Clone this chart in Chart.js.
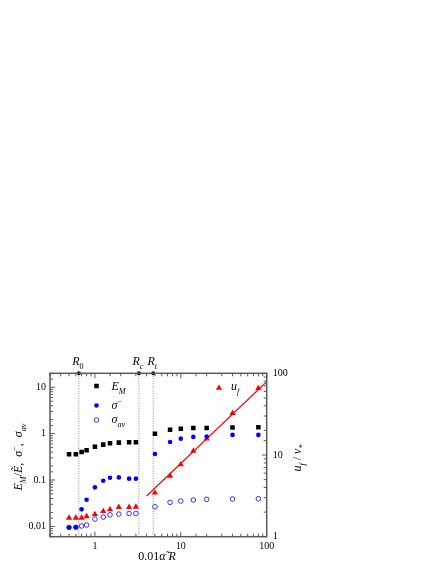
<!DOCTYPE html>
<html>
<head>
<meta charset="utf-8">
<script src="https://cdn.jsdelivr.net/npm/chart.js@4.4.0/dist/chart.umd.min.js"></script>
<style>
html, body { margin: 0; padding: 0; background: #fff; }
#wrap { width: 441px; height: 570px; }
</style>
</head>
<body>
<div id="wrap"><canvas id="chart" width="441" height="570"></canvas></div>
<script>
// datos
const xVals = [0.5, 0.6, 0.7, 0.8, 1, 1.25, 1.5, 1.9, 2.5, 3, 5, 7.5, 10, 14, 20, 40, 80];
const eM = [0.36, 0.36, 0.40, 0.44, 0.52, 0.58, 0.62, 0.64, 0.65, 0.65, 1.0, 1.22, 1.28, 1.33, 1.33, 1.35, 1.37];
const sigmaMinus = [0.0095, 0.0096, 0.0233, 0.0376, 0.0695, 0.0966, 0.112, 0.114, 0.107, 0.107, 0.365, 0.66, 0.78, 0.85, 0.87, 0.94, 0.94];
const sigmaAv = [0.0095, 0.0096, 0.0102, 0.0107, 0.0144, 0.0159, 0.0178, 0.0184, 0.019, 0.019, 0.0265, 0.033, 0.0352, 0.037, 0.0383, 0.0389, 0.0395];
const uF = [1.70, 1.70, 1.70, 1.77, 1.88, 2.05, 2.15, 2.30, 2.30, 2.32, 3.45, 5.55, 7.65, 11.2, 15.8, 32.5, 65.5];
const fitX = [4, 100];
const fitY = [3.15, 79];
const refX = [0.65, 3.25, 4.77];
const refSub = ['0', 'c', 't'];

const xTickValues = [1, 10, 100];
const xTickLabels = ['1', '10', '100'];
const yTickValues = [0.01, 0.1, 1, 10];
const yTickLabels = ['0.01', '0.1', '1', '10'];
const y2TickValues = [1, 10, 100];
const y2TickLabels = ['1', '10', '100'];

const X_MIN = 0.3, X_MAX = 100, Y_MIN = 0.006, Y_MAX = 20, Y2_MIN = 1, Y2_MAX = 100;

const SERIF = '"Liberation Serif", "DejaVu Serif", serif';

function pts(xs, ys) {
    return xs.map((x, i) => ({ x: x, y: ys[i] }));
}

function tickLabel(v, values, labels) {
    const i = values.findIndex(t => Math.abs(Math.log10(t) - Math.log10(v)) < 1e-6);
    return i >= 0 ? labels[i] : '';
}

function isDecade(v) {
    const l = Math.log10(v);
    return Math.abs(l - Math.round(l)) < 1e-6;
}

// texto con subindices / superindices
function richWidth(ctx, parts, size) {
    let w = 0;
    parts.forEach(p => {
        const s = (p.sub || p.sup) ? size * 0.68 : size;
        ctx.font = (p.it ? 'italic ' : '') + s + 'px ' + SERIF;
        w += ctx.measureText(p.t).width;
    });
    return w;
}

function drawRich(ctx, parts, x, y, size, align) {
    let cx = x;
    if (align === 'center') cx = x - richWidth(ctx, parts, size) / 2;
    ctx.textBaseline = 'alphabetic';
    ctx.textAlign = 'left';
    parts.forEach(p => {
        const s = (p.sub || p.sup) ? size * 0.68 : size;
        ctx.font = (p.it ? 'italic ' : '') + s + 'px ' + SERIF;
        let dy = 0;
        if (p.sub) dy = size * 0.32;
        if (p.sup) dy = -size * 0.42;
        ctx.fillText(p.t, cx, y + dy);
        cx += ctx.measureText(p.t).width;
    });
}

const decorPlugin = {
    id: 'decor',
    afterDraw(chart) {
        const ctx = chart.ctx;
        const ca = chart.chartArea;
        const sx = chart.scales.x, sy = chart.scales.y, sy2 = chart.scales.y2;
        ctx.save();

        // marco
        ctx.strokeStyle = '#5a5a5a';
        ctx.lineWidth = 1.5;
        ctx.strokeRect(ca.left, ca.top, ca.right - ca.left, ca.bottom - ca.top);

        // ticks hacia dentro
        ctx.lineWidth = 1;
        ctx.strokeStyle = '#5a5a5a';
        ctx.beginPath();
        sx.ticks.forEach(t => {
            const px = sx.getPixelForValue(t.value);
            const len = isDecade(t.value) ? 5 : 3;
            ctx.moveTo(px, ca.bottom); ctx.lineTo(px, ca.bottom - len);
            ctx.moveTo(px, ca.top); ctx.lineTo(px, ca.top + len);
        });
        sy.ticks.forEach(t => {
            const py = sy.getPixelForValue(t.value);
            const len = isDecade(t.value) ? 5 : 3;
            ctx.moveTo(ca.left, py); ctx.lineTo(ca.left + len, py);
        });
        sy2.ticks.forEach(t => {
            const py = sy2.getPixelForValue(t.value);
            const len = isDecade(t.value) ? 5 : 3;
            ctx.moveTo(ca.right, py); ctx.lineTo(ca.right - len, py);
        });
        ctx.stroke();

        ctx.fillStyle = '#000';

        // etiquetas R arriba
        refX.forEach((r, i) => {
            const px = sx.getPixelForValue(r);
            drawRich(ctx, [{ t: 'R', it: true }, { t: refSub[i], it: refSub[i] !== '0', sub: true }], px - 1, ca.top - 8, 12, 'center');
        });

        // leyenda
        const H = Chart.helpers;
        const lx = ca.left + 46.5;
        ctx.fillStyle = '#000';
        ctx.strokeStyle = '#000';
        H.drawPoint(ctx, { pointStyle: 'rect', radius: 3.2, rotation: 0, borderWidth: 0 }, lx, 386);
        ctx.fillStyle = '#0000ff';
        H.drawPoint(ctx, { pointStyle: 'circle', radius: 2.3, rotation: 0, borderWidth: 0 }, lx, 405.5);
        ctx.fillStyle = '#ffffff';
        ctx.strokeStyle = '#3030ff';
        ctx.lineWidth = 1;
        H.drawPoint(ctx, { pointStyle: 'circle', radius: 2.3, rotation: 0, borderWidth: 1 }, lx, 420);
        ctx.fillStyle = '#ff0000';
        H.drawPoint(ctx, { pointStyle: 'triangle', radius: 3.6, rotation: 0, borderWidth: 0 }, 219, 388);

        ctx.fillStyle = '#000';
        drawRich(ctx, [{ t: 'E', it: true }, { t: 'M', it: true, sub: true }], lx + 15, 390, 12);
        drawRich(ctx, [{ t: 'σ', it: true }, { t: '−', sup: true }], lx + 15, 409, 12);
        drawRich(ctx, [{ t: 'σ', it: true }, { t: 'av', it: true, sub: true }], lx + 15, 423, 12);
        drawRich(ctx, [{ t: 'u', it: true }, { t: 'f', it: true, sub: true }], 231, 390, 12);

        // titulo eje x
        drawRich(ctx, [{ t: '0.01' }, { t: 'α̃', it: true }, { t: ' R', it: true }], 157, 560, 12, 'center');

        // titulo eje izquierdo
        ctx.save();
        ctx.translate(22, 457);
        ctx.rotate(-Math.PI / 2);
        drawRich(ctx, [
            { t: 'E', it: true }, { t: 'M', it: true, sub: true }, { t: '/' }, { t: 'Ẽ', it: true },
            { t: ',  ' }, { t: 'σ', it: true }, { t: '−', sup: true }, { t: ',  ' },
            { t: 'σ', it: true }, { t: 'av', it: true, sub: true }
        ], 0, 0, 12, 'center');
        ctx.restore();

        // titulo eje derecho
        ctx.save();
        ctx.translate(301, 458);
        ctx.rotate(-Math.PI / 2);
        drawRich(ctx, [
            { t: 'u', it: true }, { t: 'f', it: true, sub: true }, { t: ' / ' },
            { t: 'v', it: true }, { t: '*', it: true, sub: true }
        ], 0, 0, 12, 'center');
        ctx.restore();

        ctx.restore();
    }
};

const refSets = refX.map(r => ({
    type: 'line',
    data: [{ x: r, y: Y_MIN }, { x: r, y: Y_MAX }],
    yAxisID: 'y',
    borderColor: '#8a8a8a',
    borderWidth: 1,
    borderDash: [1, 1.5],
    pointRadius: [0, 2],
    pointBackgroundColor: '#000',
    pointBorderWidth: 0,
    clip: false
}));

const ctx = document.getElementById('chart').getContext('2d');

new Chart(ctx, {
    type: 'scatter',
    data: {
        datasets: [
            {
                label: 'sigma-',
                data: pts(xVals, sigmaMinus),
                yAxisID: 'y',
                pointStyle: 'circle',
                pointRadius: 2.3,
                pointBackgroundColor: '#0000ff',
                pointBorderWidth: 0
            },
            {
                label: 'EM',
                data: pts(xVals, eM),
                yAxisID: 'y',
                pointStyle: 'rect',
                pointRadius: 3.2,
                pointBackgroundColor: '#000',
                pointBorderWidth: 0
            },
            {
                label: 'uf',
                data: pts(xVals, uF),
                yAxisID: 'y2',
                pointStyle: 'triangle',
                pointRadius: 3.6,
                pointBackgroundColor: '#ff0000',
                pointBorderWidth: 0
            },
            {
                label: 'sigma_av',
                data: pts(xVals, sigmaAv),
                yAxisID: 'y',
                pointStyle: 'circle',
                pointRadius: 2.3,
                pointBackgroundColor: '#ffffff',
                pointBorderColor: '#3030ff',
                pointBorderWidth: 1
            },
            {
                label: 'fit',
                type: 'line',
                data: pts(fitX, fitY),
                yAxisID: 'y2',
                borderColor: '#ff0000',
                borderWidth: 1.2,
                pointRadius: 0
            },
            ...refSets
        ]
    },
    options: {
        responsive: false,
        animation: false,
        layout: { padding: { top: 373.3, left: 0, right: 0, bottom: 0 } },
        plugins: {
            legend: { display: false },
            tooltip: { enabled: false }
        },
        scales: {
            x: {
                type: 'logarithmic',
                position: 'bottom',
                min: X_MIN,
                max: X_MAX,
                afterFit(s) { s.height = 33.3; },
                grid: { display: false, drawTicks: false },
                border: { display: false },
                ticks: {
                    autoSkip: false,
                    maxRotation: 0,
                    padding: 4,
                    color: '#000',
                    font: { family: SERIF, size: 10 },
                    callback: v => tickLabel(v, xTickValues, xTickLabels)
                }
            },
            y: {
                type: 'logarithmic',
                position: 'left',
                min: Y_MIN,
                max: Y_MAX,
                afterFit(s) { s.width = 50; },
                grid: { display: false, drawTicks: false },
                border: { display: false },
                ticks: {
                    autoSkip: false,
                    padding: 4,
                    color: '#000',
                    font: { family: SERIF, size: 10 },
                    callback: v => tickLabel(v, yTickValues, yTickLabels)
                }
            },
            y2: {
                type: 'logarithmic',
                position: 'right',
                min: Y2_MIN,
                max: Y2_MAX,
                afterFit(s) { s.width = 174.3; },
                grid: { display: false, drawTicks: false },
                border: { display: false },
                ticks: {
                    autoSkip: false,
                    padding: 6,
                    color: '#000',
                    font: { family: SERIF, size: 10 },
                    callback: v => tickLabel(v, y2TickValues, y2TickLabels)
                }
            }
        }
    },
    plugins: [decorPlugin]
});
</script>
</body>
</html>
